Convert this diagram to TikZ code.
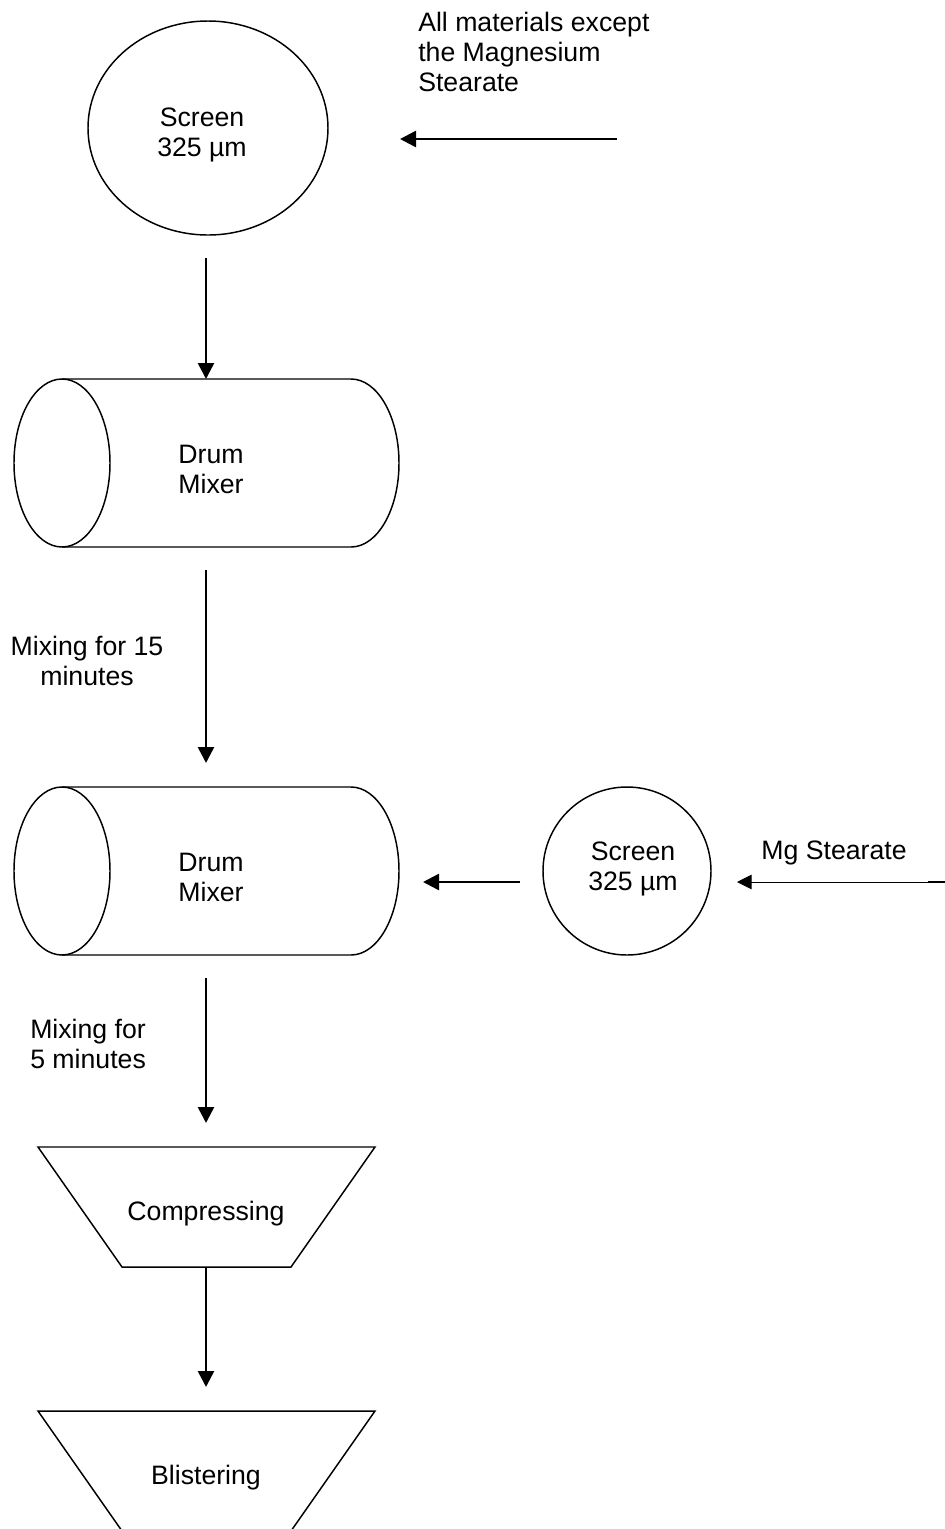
\documentclass[tikz,border=0pt]{standalone}
\usepackage{fontspec}
\setmainfont{Liberation Sans}
\usetikzlibrary{arrows.meta,positioning}
\begin{document}
\begin{tikzpicture}[x=0.75pt,y=-0.75pt,
  txt/.style={font=\fontsize{20}{22.5}\selectfont, inner sep=0pt, align=center},
  ltxt/.style={font=\fontsize{20}{22.5}\selectfont, inner sep=0pt, align=left},
  outl/.style={draw=black, line width=1.1pt},
  flow/.style={line width=1.9pt, -{Triangle[length=12pt,width=12pt]}},
  thinflow/.style={line width=0.7pt, -{Triangle[length=11pt,width=11pt]}}]
\useasboundingbox (0,0) rectangle (945,1529);
\clip (0,0) rectangle (945,1529);

% top screen
\draw[outl] (208,128) ellipse [x radius=120, y radius=107];
\node[txt] (screen1) at (202,135) {Screen\\325 µm};
\node[ltxt, anchor=north west] (allmat) at (418,12) {All materials except\\the Magnesium\\Stearate};
\coordinate (a1s) at (617,139);
\coordinate (a1e) at (400,139);
\draw[flow] (a1s) -- (a1e);

% arrow to drum 1
\coordinate (a2s) at (206,258);
\coordinate (a2e) at (206,379);
\draw[flow] (a2s) -- (a2e);

% drum 1
\draw[outl] (62,463) ellipse [x radius=48, y radius=84];
\draw[outl] (62,379) -- (351,379) arc[start angle=90, end angle=-90, x radius=48, y radius=-84] -- (62,547);
\node[txt] (drum1) at (211,469) {Drum\\Mixer};

% arrow drum1 -> drum2
\coordinate (a3s) at (206,570);
\coordinate (a3e) at (206,763);
\draw[flow] (a3s) -- (a3e);
\node[txt] (mix15) at (87,661) {Mixing for 15\\minutes};

% drum 2
\draw[outl] (62,871) ellipse [x radius=48, y radius=84];
\draw[outl] (62,787) -- (351,787) arc[start angle=90, end angle=-90, x radius=48, y radius=-84] -- (62,955);
\node[txt] (drum2) at (211,877) {Drum\\Mixer};

% small screen
\draw[outl] (627,871) ellipse [x radius=84, y radius=84];
\node[txt] (screen2) at (633,869) {Screen\\325 µm};
\coordinate (a4s) at (520,882);
\coordinate (a4e) at (423,882);
\draw[flow] (a4s) -- (a4e);

\node[txt] (mg) at (834,853) {Mg Stearate};
\coordinate (a5s) at (945,882);
\coordinate (a5e) at (737,882);
\draw[thinflow] (a5s) -- (a5e);
\draw[line width=1.6pt] (928,882) -- (945,882);

% arrow drum2 -> compressing
\coordinate (a6s) at (206,978);
\coordinate (a6e) at (206,1123);
\draw[flow] (a6s) -- (a6e);
\node[ltxt, anchor=north west] (mix5) at (30,1019) {Mixing for\\5 minutes};

% compressing
\draw[outl] (38,1147) -- (375,1147) -- (291,1267) -- (122,1267) -- cycle;
\node[txt] (comp) at (206,1214) {Compressing};

\coordinate (a7s) at (206,1267);
\coordinate (a7e) at (206,1387);
\draw[flow] (a7s) -- (a7e);

% blistering
\draw[outl] (38,1411) -- (375,1411) -- (291,1531) -- (122,1531) -- cycle;
\node[txt] (blist) at (206,1478) {Blistering};
\end{tikzpicture}
\end{document}
